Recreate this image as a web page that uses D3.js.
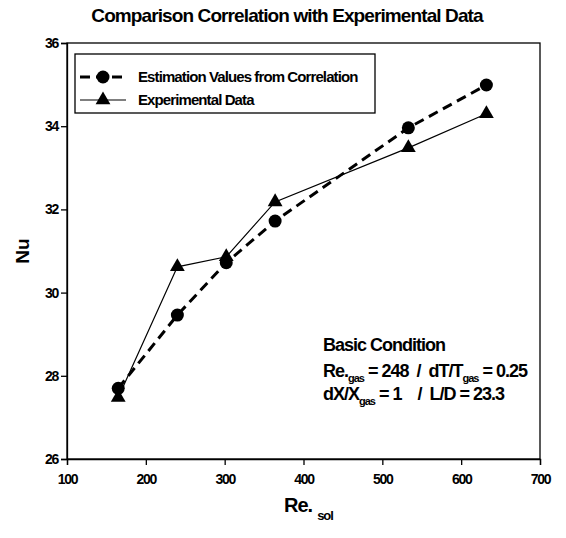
<!DOCTYPE html>
<html><head><meta charset="utf-8">
<script src="https://cdn.jsdelivr.net/npm/d3@7"></script>
<style>body{margin:0;background:#fff}text{font-family:"Liberation Sans",Arial,sans-serif;white-space:pre}</style>
</head><body><svg id="c" width="566" height="538"></svg>
<script>
const reSol = [165, 240, 302, 364, 533, 632];
const nuCorrelation = [27.7, 29.46, 30.72, 31.72, 33.96, 34.99];
const nuExperimental = [27.48, 30.62, 30.86, 32.18, 33.48, 34.3];
const xTicks = [100, 200, 300, 400, 500, 600, 700];
const yTicks = [26, 28, 30, 32, 34, 36];
const seriesNames = ["Estimation Values from Correlation", "Experimental Data"];

const svg = d3.select("#c");
const L = 67, R = 540, T = 43, B = 459;
const x = d3.scaleLinear().domain([100, 700]).range([L, R]);
const y = d3.scaleLinear().domain([26, 36]).range([B, T]);

svg.append("rect").attr("x", L).attr("y", T).attr("width", R - L).attr("height", B - T)
  .attr("fill", "none").attr("stroke", "#000").attr("stroke-width", 1.3);

const xa = svg.append("g").attr("transform", `translate(0,${B})`)
  .call(d3.axisBottom(x).tickValues(xTicks).tickSize(6).tickPadding(9).tickFormat(d3.format("d")));
const ya = svg.append("g").attr("transform", `translate(${L},0)`)
  .call(d3.axisLeft(y).tickValues(yTicks).tickSize(6).tickPadding(3).tickFormat(d3.format("d")));
[xa, ya].forEach(a => {
  a.select(".domain").attr("stroke-width", 1.3);
  a.selectAll("line").attr("stroke-width", 1.3);
  a.selectAll("text").attr("font-size", 14).attr("font-family", "Liberation Sans, Arial")
    .attr("font-weight", "bold").attr("letter-spacing", -1.3).attr("fill", "#000");
});

const pts1 = reSol.map((v, i) => [v, nuCorrelation[i]]);
const pts2 = reSol.map((v, i) => [v, nuExperimental[i]]);
const line = d3.line().x(d => x(d[0])).y(d => y(d[1]));

svg.append("path").attr("d", line(pts2)).attr("fill", "none").attr("stroke", "#000").attr("stroke-width", 1.2);
svg.append("path").attr("d", line(pts1)).attr("fill", "none").attr("stroke", "#000")
  .attr("stroke-width", 3).attr("stroke-dasharray", "10,6");

const tri = d3.symbol().type(d3.symbolTriangle).size(95);
svg.selectAll(".tri").data(pts2).join("path").attr("d", tri)
  .attr("transform", d => `translate(${x(d[0])},${y(d[1])})`).attr("fill", "#000");
svg.selectAll(".cir").data(pts1).join("circle").attr("cx", d => x(d[0])).attr("cy", d => y(d[1]))
  .attr("r", 6.5).attr("fill", "#000");

// legend
svg.append("rect").attr("x", 75).attr("y", 54).attr("width", 300).attr("height", 59)
  .attr("fill", "#fff").attr("stroke", "#000").attr("stroke-width", 1.3);
const ly = [77, 100];
svg.append("line").attr("x1", 80).attr("x2", 126).attr("y1", ly[0]).attr("y2", ly[0])
  .attr("stroke", "#000").attr("stroke-width", 3).attr("stroke-dasharray", "10,6");
svg.append("circle").attr("cx", 103).attr("cy", ly[0]).attr("r", 6.5).attr("fill", "#000");
svg.append("line").attr("x1", 80).attr("x2", 126).attr("y1", ly[1]).attr("y2", ly[1])
  .attr("stroke", "#000").attr("stroke-width", 1.2);
svg.append("path").attr("d", tri).attr("transform", `translate(103,${ly[1]})`).attr("fill", "#000");
seriesNames.forEach((n, i) => {
  svg.append("text").attr("x", 138).attr("y", ly[i] + 5).attr("font-size", 15).attr("font-weight", "bold")
    .attr("letter-spacing", -0.9).text(n);
});

svg.append("text").attr("x", 287).attr("y", 22).attr("text-anchor", "middle").attr("font-size", 19)
  .attr("font-weight", "bold").attr("letter-spacing", -0.9).text("Comparison Correlation with Experimental Data");

svg.append("text").attr("transform", "translate(29,251) rotate(-90)").attr("text-anchor", "middle")
  .attr("font-size", 19).attr("font-weight", "bold").text("Nu");
const xt = svg.append("text").attr("x", 284).attr("y", 512).attr("font-size", 20)
  .attr("font-weight", "bold").attr("letter-spacing", -1);
xt.append("tspan").text("Re.");
xt.append("tspan").attr("dx", 5).attr("dy", 8).attr("font-size", 13).text("sol");

const ann = svg.append("g").attr("font-weight", "bold").attr("font-size", 18).attr("letter-spacing", -1);
ann.append("text").attr("x", 323).attr("y", 351).text("Basic Condition");
const t2 = ann.append("text").attr("x", 323).attr("y", 377);
t2.append("tspan").text("Re.");
t2.append("tspan").attr("dy", 5).attr("font-size", 11).text("gas");
t2.append("tspan").attr("dy", -5).text(" = 248  /  dT/T");
t2.append("tspan").attr("dy", 5).attr("font-size", 11).text("gas");
t2.append("tspan").attr("dy", -5).text(" = 0.25");
const t3 = ann.append("text").attr("x", 323).attr("y", 400);
t3.append("tspan").text("dX/X");
t3.append("tspan").attr("dy", 5).attr("font-size", 11).text("gas");
t3.append("tspan").attr("dy", -5).text(" = 1    /  L/D = 23.3");
</script></body></html>
